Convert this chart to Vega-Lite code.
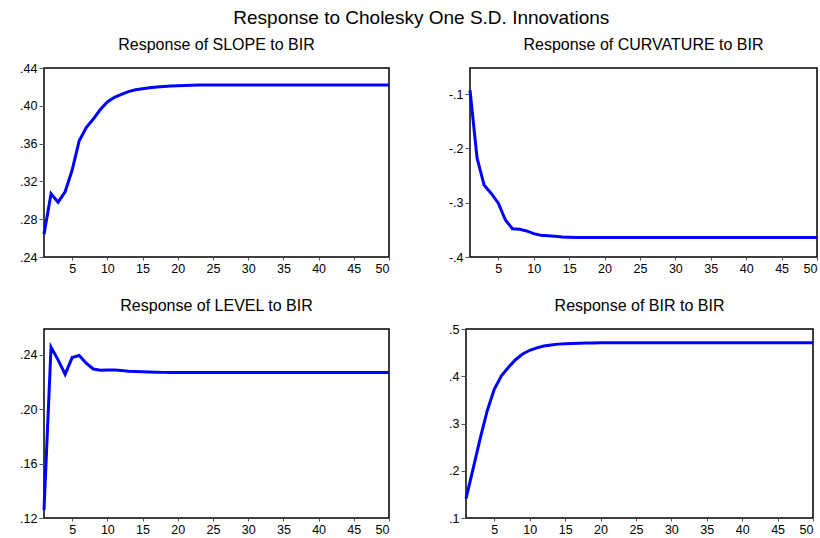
{
  "$schema": "https://vega.github.io/schema/vega-lite/v6.json",
  "background": "white",
  "padding": {"left": 18, "top": 9, "right": 0, "bottom": 0},
  "title": {"text": "Response to Cholesky One S.D. Innovations", "font": "Liberation Sans", "fontSize": 19, "fontWeight": "normal", "color": "black", "anchor": "middle", "offset": 8},
  "config": {
    "view": {"stroke": "black", "strokeWidth": 1.5},
    "font": "Liberation Sans",
    "title": {"font": "Liberation Sans", "fontSize": 16, "fontWeight": "normal", "color": "black"},
    "axis": {"labelFont": "Liberation Sans", "labelFontSize": 12.5, "labelColor": "black", "domain": false, "grid": false, "title": null, "tickColor": "#555555"}
  },
  "data": {"values": [
    {"t": 1, "slope": 0.264, "curv": -0.093, "level": 0.126, "bir": 0.141},
    {"t": 2, "slope": 0.307, "curv": -0.218, "level": 0.2457, "bir": 0.204},
    {"t": 3, "slope": 0.298, "curv": -0.268, "level": 0.2363, "bir": 0.268},
    {"t": 4, "slope": 0.309, "curv": -0.283, "level": 0.2257, "bir": 0.327},
    {"t": 5, "slope": 0.332, "curv": -0.301, "level": 0.238, "bir": 0.373},
    {"t": 6, "slope": 0.363, "curv": -0.332, "level": 0.2395, "bir": 0.401},
    {"t": 7, "slope": 0.377, "curv": -0.348, "level": 0.2338, "bir": 0.419},
    {"t": 8, "slope": 0.386, "curv": -0.349, "level": 0.2296, "bir": 0.435},
    {"t": 9, "slope": 0.396, "curv": -0.352, "level": 0.2286, "bir": 0.447},
    {"t": 10, "slope": 0.404, "curv": -0.357, "level": 0.2288, "bir": 0.455},
    {"t": 11, "slope": 0.409, "curv": -0.360, "level": 0.2288, "bir": 0.460},
    {"t": 12, "slope": 0.412, "curv": -0.361, "level": 0.2285, "bir": 0.464},
    {"t": 13, "slope": 0.415, "curv": -0.362, "level": 0.2280, "bir": 0.466},
    {"t": 14, "slope": 0.417, "curv": -0.363, "level": 0.2278, "bir": 0.468},
    {"t": 15, "slope": 0.418, "curv": -0.3635, "level": 0.2275, "bir": 0.469},
    {"t": 16, "slope": 0.419, "curv": -0.364, "level": 0.2273, "bir": 0.4695},
    {"t": 17, "slope": 0.420, "curv": -0.364, "level": 0.2272, "bir": 0.470},
    {"t": 18, "slope": 0.4205, "curv": -0.364, "level": 0.2271, "bir": 0.4703},
    {"t": 19, "slope": 0.421, "curv": -0.364, "level": 0.227, "bir": 0.4705},
    {"t": 20, "slope": 0.4213, "curv": -0.364, "level": 0.227, "bir": 0.4707},
    {"t": 21, "slope": 0.4216, "curv": -0.364, "level": 0.227, "bir": 0.4708},
    {"t": 22, "slope": 0.4218, "curv": -0.364, "level": 0.227, "bir": 0.471},
    {"t": 23, "slope": 0.422, "curv": -0.364, "level": 0.227, "bir": 0.471},
    {"t": 24, "slope": 0.422, "curv": -0.364, "level": 0.227, "bir": 0.471},
    {"t": 25, "slope": 0.422, "curv": -0.364, "level": 0.227, "bir": 0.471},
    {"t": 26, "slope": 0.422, "curv": -0.364, "level": 0.227, "bir": 0.471},
    {"t": 27, "slope": 0.422, "curv": -0.364, "level": 0.227, "bir": 0.471},
    {"t": 28, "slope": 0.422, "curv": -0.364, "level": 0.227, "bir": 0.471},
    {"t": 29, "slope": 0.422, "curv": -0.364, "level": 0.227, "bir": 0.471},
    {"t": 30, "slope": 0.422, "curv": -0.364, "level": 0.227, "bir": 0.471},
    {"t": 31, "slope": 0.422, "curv": -0.364, "level": 0.227, "bir": 0.471},
    {"t": 32, "slope": 0.422, "curv": -0.364, "level": 0.227, "bir": 0.471},
    {"t": 33, "slope": 0.422, "curv": -0.364, "level": 0.227, "bir": 0.471},
    {"t": 34, "slope": 0.422, "curv": -0.364, "level": 0.227, "bir": 0.471},
    {"t": 35, "slope": 0.422, "curv": -0.364, "level": 0.227, "bir": 0.471},
    {"t": 36, "slope": 0.422, "curv": -0.364, "level": 0.227, "bir": 0.471},
    {"t": 37, "slope": 0.422, "curv": -0.364, "level": 0.227, "bir": 0.471},
    {"t": 38, "slope": 0.422, "curv": -0.364, "level": 0.227, "bir": 0.471},
    {"t": 39, "slope": 0.422, "curv": -0.364, "level": 0.227, "bir": 0.471},
    {"t": 40, "slope": 0.422, "curv": -0.364, "level": 0.227, "bir": 0.471},
    {"t": 41, "slope": 0.422, "curv": -0.364, "level": 0.227, "bir": 0.471},
    {"t": 42, "slope": 0.422, "curv": -0.364, "level": 0.227, "bir": 0.471},
    {"t": 43, "slope": 0.422, "curv": -0.364, "level": 0.227, "bir": 0.471},
    {"t": 44, "slope": 0.422, "curv": -0.364, "level": 0.227, "bir": 0.471},
    {"t": 45, "slope": 0.422, "curv": -0.364, "level": 0.227, "bir": 0.471},
    {"t": 46, "slope": 0.422, "curv": -0.364, "level": 0.227, "bir": 0.471},
    {"t": 47, "slope": 0.422, "curv": -0.364, "level": 0.227, "bir": 0.471},
    {"t": 48, "slope": 0.422, "curv": -0.364, "level": 0.227, "bir": 0.471},
    {"t": 49, "slope": 0.422, "curv": -0.364, "level": 0.227, "bir": 0.471},
    {"t": 50, "slope": 0.422, "curv": -0.364, "level": 0.227, "bir": 0.471}
  ]},
  "spacing": 21,
  "vconcat": [
    {
      "spacing": 51,
      "hconcat": [
        {
          "title": {"text": "Response of SLOPE to BIR", "offset": 9},
          "width": 345, "height": 189,
          "mark": {"type": "line", "color": "#0000ff", "strokeWidth": 3},
          "encoding": {
            "x": {"field": "t", "type": "quantitative", "scale": {"domain": [1, 50], "nice": false, "zero": false}, "axis": {"values": [5,10,15,20,25,30,35,40,45,50], "tickSize": 3, "labelPadding": 2}},
            "y": {"field": "slope", "type": "quantitative", "scale": {"domain": [0.24, 0.44], "nice": false, "zero": false}, "axis": {"values": [0.24,0.28,0.32,0.36,0.40,0.44], "labelExpr": "replace(format(datum.value, '.2f'), '0.', '.')", "tickSize": 5, "labelPadding": 2}}
          }
        },
        {
          "title": {"text": "Response of CURVATURE to BIR", "offset": 15},
          "width": 347, "height": 189,
          "mark": {"type": "line", "color": "#0000ff", "strokeWidth": 3},
          "encoding": {
            "x": {"field": "t", "type": "quantitative", "scale": {"domain": [1, 50], "nice": false, "zero": false}, "axis": {"values": [5,10,15,20,25,30,35,40,45,50], "tickSize": 3, "labelPadding": 2}},
            "y": {"field": "curv", "type": "quantitative", "scale": {"domain": [-0.4, -0.052], "nice": false, "zero": false}, "axis": {"values": [-0.4,-0.3,-0.2,-0.1], "labelExpr": "'-' + replace(format(-datum.value, '.1f'), '0.', '.')", "tickSize": 5, "labelPadding": 2}}
          }
        }
      ]
    },
    {
      "spacing": 51,
      "hconcat": [
        {
          "title": {"text": "Response of LEVEL to BIR", "offset": 15},
          "width": 345, "height": 189,
          "mark": {"type": "line", "color": "#0000ff", "strokeWidth": 3},
          "encoding": {
            "x": {"field": "t", "type": "quantitative", "scale": {"domain": [1, 50], "nice": false, "zero": false}, "axis": {"values": [5,10,15,20,25,30,35,40,45,50], "tickSize": 3, "labelPadding": 2}},
            "y": {"field": "level", "type": "quantitative", "scale": {"domain": [0.12, 0.259], "nice": false, "zero": false}, "axis": {"values": [0.12,0.16,0.20,0.24], "labelExpr": "replace(format(datum.value, '.2f'), '0.', '.')", "tickSize": 5, "labelPadding": 2}}
          }
        },
        {
          "title": {"text": "Response of BIR to BIR", "offset": 9},
          "width": 347, "height": 189,
          "mark": {"type": "line", "color": "#0000ff", "strokeWidth": 3},
          "encoding": {
            "x": {"field": "t", "type": "quantitative", "scale": {"domain": [1, 50], "nice": false, "zero": false}, "axis": {"values": [5,10,15,20,25,30,35,40,45,50], "tickSize": 3, "labelPadding": 2}},
            "y": {"field": "bir", "type": "quantitative", "scale": {"domain": [0.1, 0.5], "nice": false, "zero": false}, "axis": {"values": [0.1,0.2,0.3,0.4,0.5], "labelExpr": "replace(format(datum.value, '.1f'), '0.', '.')", "tickSize": 5, "labelPadding": 2}}
          }
        }
      ]
    }
  ]
}
